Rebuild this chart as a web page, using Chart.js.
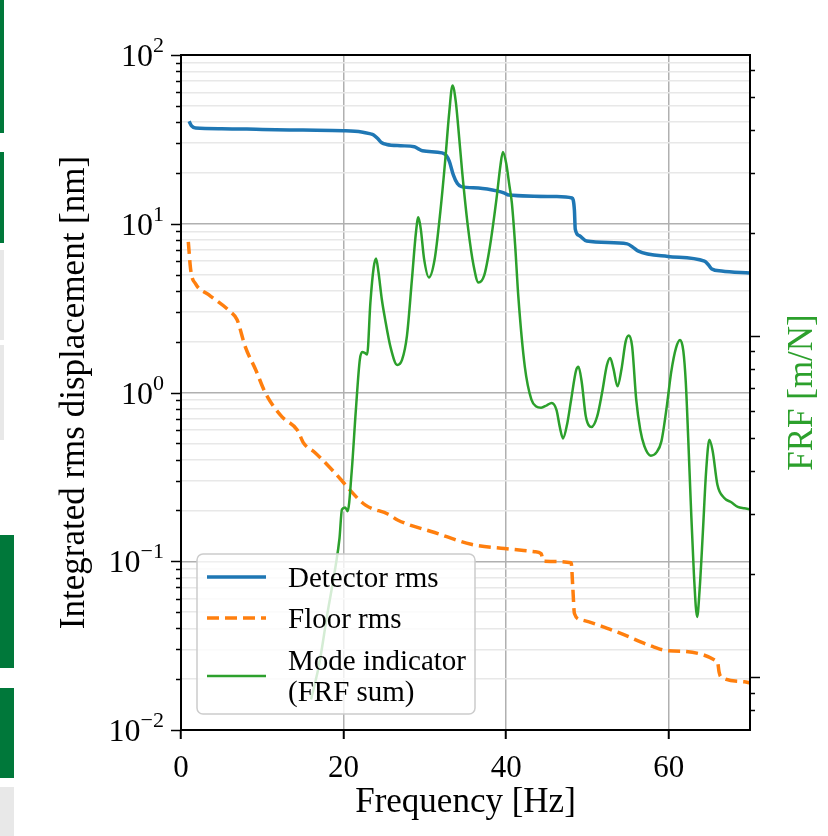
<!DOCTYPE html>
<html>
<head>
<meta charset="utf-8">
<script src="https://cdn.jsdelivr.net/npm/chart.js@4.4.1/dist/chart.umd.min.js"></script>
<style>
  html, body { margin: 0; padding: 0; background: #fff; }
  #wrap { position: relative; width: 828px; height: 836px; }
  .tab { position: absolute; left: 0; }
</style>
</head>
<body>
<div id="wrap">
  <canvas id="chart"></canvas>
  <div class="tab" style="top:0;height:133px;width:4px;background:#00783a"></div>
  <div class="tab" style="top:152px;height:91px;width:4px;background:#00783a"></div>
  <div class="tab" style="top:250px;height:90px;width:4px;background:#e8e8e8"></div>
  <div class="tab" style="top:345px;height:95px;width:4px;background:#e8e8e8"></div>
  <div class="tab" style="top:535px;height:133px;width:14px;background:#00783a"></div>
  <div class="tab" style="top:688px;height:90px;width:14px;background:#00783a"></div>
  <div class="tab" style="top:787px;height:49px;width:14px;background:#e8e8e8"></div>
</div>
<script>
// ===== DADOS =====
const detectorFreq = [1.0, 1.3, 1.8, 5, 10, 15, 20, 22.2, 23.2, 23.7, 24.2, 24.7, 25.3, 27, 28.7, 29.2, 29.7, 32.1, 32.6, 33.0, 33.5, 34.0, 34.5, 36.6, 39.0, 39.8, 40.3, 46.2, 48.1, 48.4, 48.5, 49.0, 49.9, 54.9, 55.7, 56.2, 59.9, 64.4, 64.9, 65.3, 66.5, 70];
const detectorRms  = [40.5, 38.0, 36.9, 36.6, 36.2, 35.9, 35.6, 35.0, 34.2, 33.6, 32.0, 30.2, 29.5, 29.0, 28.6, 27.8, 27.1, 26.3, 25.5, 23.5, 19.5, 17.3, 16.6, 16.3, 15.6, 15.2, 14.8, 14.5, 14.2, 12.0, 9.3, 8.5, 7.9, 7.6, 7.2, 6.9, 6.4, 6.0, 5.7, 5.4, 5.25, 5.1];

const floorFreq = [0.9, 1.2, 1.8, 3.4, 6.1, 6.9, 7.9, 9.2, 10.4, 12.4, 14.3, 15.1, 16.5, 19.8, 20.6, 22.7, 25.5, 26.7, 31.2, 35.7, 39.8, 43.5, 44.3, 44.6, 48.0, 48.2, 48.4, 49.2, 53.7, 58.2, 59.9, 66.0, 66.2, 66.4, 69.3, 70];
const floorRms  = [7.8, 5.3, 4.4, 3.8, 3.0, 2.7, 1.87, 1.36, 0.99, 0.72, 0.60, 0.50, 0.44, 0.30, 0.27, 0.215, 0.19, 0.175, 0.148, 0.126, 0.119, 0.114, 0.111, 0.100, 0.098, 0.070, 0.049, 0.045, 0.038, 0.031, 0.0295, 0.0254, 0.022, 0.0207, 0.0193, 0.019];

// FRF em unidades relativas (marcas maiores do eixo direito em 1 e 10)
const modeFreq = [16.0, 17.0, 18.0, 19.0, 19.5, 19.8, 20.2, 20.5, 21.0, 21.5, 22.0, 22.3, 22.6, 22.9, 23.3, 23.7, 24.0, 24.3, 24.7, 25.1, 25.8, 26.6, 27.2, 27.8, 28.4, 28.9, 29.2, 29.5, 29.9, 30.5, 31.2, 31.9, 32.5, 33.0, 33.4, 33.8, 34.1, 34.6, 35.3, 36.0, 36.6, 37.3, 38.0, 38.8, 39.3, 39.6, 40.0, 40.4, 40.7, 41.1, 41.5, 42.3, 43.1, 43.7, 44.3, 45.0, 45.6, 46.2, 46.6, 47.0, 47.5, 48.0, 48.6, 48.9, 49.3, 49.8, 50.5, 51.2, 51.8, 52.4, 52.8, 53.2, 53.7, 54.2, 54.7, 55.1, 55.5, 56.0, 56.5, 57.0, 57.8, 58.5, 59.1, 59.8, 60.3, 60.9, 61.4, 61.8, 62.1, 62.4, 62.7, 63.1, 63.5, 63.8, 64.2, 64.6, 65.0, 65.4, 66.0, 66.8, 67.7, 68.5, 69.3, 70.0];
const modeFrf  = [0.86, 1.09, 1.53, 2.10, 2.55, 3.10, 3.14, 3.06, 4.0, 6.0, 8.5, 8.95, 8.9, 8.8, 12.5, 15.8, 16.8, 15.3, 12.8, 11.2, 9.2, 8.2, 8.5, 10.0, 14.5, 20.0, 22.2, 20.5, 16.8, 14.8, 16.7, 23, 32.5, 45, 54, 48.5, 41, 30, 20.8, 16.0, 14.3, 15.0, 18.2, 25, 31.5, 34.5, 32, 27.5, 24.5, 18.5, 13.0, 8.1, 6.5, 6.2, 6.15, 6.25, 6.35, 6.05, 5.4, 5.0, 5.5, 6.5, 7.9, 8.1, 7.3, 5.8, 5.4, 5.8, 6.8, 8.2, 8.6, 8.0, 7.1, 8.0, 9.6, 10.0, 9.3, 6.5, 5.3, 4.75, 4.45, 4.55, 4.9, 6.3, 7.8, 9.2, 9.7, 9.0, 7.3, 5.0, 3.3, 2.0, 1.5, 1.8, 2.65, 4.0, 4.95, 4.6, 3.65, 3.35, 3.25, 3.15, 3.12, 3.1];

const xTicks      = [0, 20, 40, 60];
const decadas     = [0.01, 0.1, 1, 10, 100];
const expoentes   = ['\u22122', '\u22121', '0', '1', '2'];
const multiplos   = [1, 2, 3, 4, 5, 6, 7, 8, 9];
const frfTicks    = [0.8, 0.9, 1, 2, 3, 4, 5, 6, 7, 8, 9, 10, 20, 30, 40, 50, 60];
const FRF_MIN = 0.705, FRF_MAX = 66.3;

const SERIF = "'Liberation Serif', 'Times New Roman', serif";
const AZUL = '#1f77b4', LARANJA = '#ff7f0e', VERDE = '#2ca02c';

const pares = (xs, ys) => xs.map((x, i) => ({ x, y: ys[i] }));
const ehDecada = v => Math.abs(Math.log10(v) - Math.round(Math.log10(v))) < 1e-9;

const yGrid = [];
decadas.slice(0, 4).forEach(d => multiplos.forEach(m => yGrid.push(+(d * m).toPrecision(3))));
yGrid.push(100);


// ===== PLUGIN: moldura, marcas, rótulos e legenda =====
const extras = {
  id: 'extras',
  afterDraw(chart) {
    const { ctx, chartArea: a, scales } = chart;
    const y = scales.y, y2 = scales.y2;

    ctx.save();
    ctx.strokeStyle = '#000';

    // marcas eixo esquerdo
    ctx.lineWidth = 1.5;
    yGrid.forEach(v => {
      const py = Math.round(y.getPixelForValue(v)) + 0.5;
      const len = ehDecada(v) ? 10 : 5;
      ctx.beginPath(); ctx.moveTo(a.left - len, py); ctx.lineTo(a.left, py); ctx.stroke();
    });

    // marcas eixo direito
    frfTicks.forEach(v => {
      const py = Math.round(y2.getPixelForValue(v)) + 0.5;
      const len = ehDecada(v) ? 10 : 5;
      ctx.beginPath(); ctx.moveTo(a.right, py); ctx.lineTo(a.right + len, py); ctx.stroke();
    });

    // moldura
    ctx.lineWidth = 2;
    ctx.strokeRect(a.left, a.top, a.right - a.left, a.bottom - a.top);

    // rótulos 10^n
    ctx.fillStyle = '#000';
    ctx.textBaseline = 'alphabetic';
    ctx.textAlign = 'left';
    const xr = a.left - 17;
    decadas.forEach((d, i) => {
      const py = y.getPixelForValue(d);
      ctx.font = `22px ${SERIF}`;
      const we = ctx.measureText(expoentes[i]).width;
      ctx.font = `32px ${SERIF}`;
      const wb = ctx.measureText('10').width;
      ctx.fillText('10', xr - we - wb, py + 11);
      ctx.font = `22px ${SERIF}`;
      ctx.fillText(expoentes[i], xr - we, py - 3);
    });

    // título eixo direito
    ctx.save();
    ctx.translate(803, (a.top + a.bottom) / 2);
    ctx.rotate(-Math.PI / 2);
    ctx.textAlign = 'center';
    ctx.textBaseline = 'middle';
    ctx.fillStyle = VERDE;
    ctx.font = `35px ${SERIF}`;
    ctx.fillText('FRF [m/N]', 0, 0);
    ctx.restore();

    // legenda
    const bx = a.left + 16, by = a.top + 499, bw = 278, bh = 160;
    ctx.beginPath();
    ctx.roundRect(bx, by, bw, bh, 6);
    ctx.fillStyle = 'rgba(255,255,255,0.8)';
    ctx.fill();
    ctx.strokeStyle = '#cccccc';
    ctx.lineWidth = 1.5;
    ctx.stroke();

    const ordem = [2, 1, 0];
    const linhas = [a.top + 522, a.top + 563, a.top + 621];
    ctx.font = `29px ${SERIF}`;
    ctx.textBaseline = 'middle';
    ordem.forEach((idx, k) => {
      const ds = chart.data.datasets[idx];
      const ly = linhas[k];
      ctx.beginPath();
      ctx.strokeStyle = ds.borderColor;
      ctx.lineWidth = ds.borderWidth;
      ctx.setLineDash(ds.borderDash || []);
      ctx.moveTo(bx + 10, ly); ctx.lineTo(bx + 69, ly);
      ctx.stroke();
      ctx.setLineDash([]);
      ctx.fillStyle = '#000';
      const partes = ds.label.split('\n');
      const y0 = ly - (partes.length - 1) * 31 / 2 + 2;
      partes.forEach((p, j) => ctx.fillText(p, bx + 91, y0 + j * 31));
    });

    ctx.restore();
  }
};


// ===== GRÁFICO =====
new Chart(document.getElementById('chart'), {
  type: 'line',
  data: {
    datasets: [
      { label: 'Mode indicator\n(FRF sum)', data: pares(modeFreq, modeFrf), yAxisID: 'y2',
        borderColor: VERDE, borderWidth: 2.5, order: 0 },
      { label: 'Floor rms', data: pares(floorFreq, floorRms), yAxisID: 'y',
        borderColor: LARANJA, borderWidth: 3.5, borderDash: [12, 6], order: 1 },
      { label: 'Detector rms', data: pares(detectorFreq, detectorRms), yAxisID: 'y',
        borderColor: AZUL, borderWidth: 3.5, order: 2 }
    ]
  },
  options: {
    responsive: true,
    maintainAspectRatio: false,
    animation: false,
    devicePixelRatio: 1,
    layout: { padding: { top: 55, left: 0, right: 0, bottom: 0 } },
    elements: {
      point: { radius: 0 },
      line: { cubicInterpolationMode: 'monotone', borderJoinStyle: 'round', fill: false }
    },
    plugins: { legend: { display: false }, tooltip: { enabled: false } },
    scales: {
      x: {
        type: 'linear', min: 0, max: 70,
        afterBuildTicks: s => { s.ticks = xTicks.map(v => ({ value: v })); },
        afterFit: s => { s.height = 106; },
        grid: { color: '#b0b0b0', lineWidth: 1.5, tickColor: '#000', tickLength: 9, tickWidth: 2 },
        border: { display: false },
        ticks: { color: '#000', font: { family: SERIF, size: 31 }, padding: 11, maxRotation: 0, autoSkip: false },
        title: { display: true, text: 'Frequency [Hz]', color: '#000',
                 font: { family: SERIF, size: 35 }, padding: { top: 0, bottom: 12 } }
      },
      y: {
        type: 'logarithmic', position: 'left', min: 0.01, max: 100,
        afterBuildTicks: s => { s.ticks = yGrid.map(v => ({ value: v })); },
        afterFit: s => { s.width = 181; },
        grid: { color: c => (c.tick && ehDecada(c.tick.value)) ? '#b0b0b0' : '#e8e8e8', lineWidth: 1.5, drawTicks: false },
        border: { display: false },
        ticks: { display: false },
        title: { display: true, text: 'Integrated rms displacement [nm]', color: '#000',
                 font: { family: SERIF, size: 35 }, padding: { top: 54, bottom: 0 } }
      },
      y2: {
        type: 'logarithmic', position: 'right', min: FRF_MIN, max: FRF_MAX,
        afterFit: s => { s.width = 78; },
        grid: { display: false, drawTicks: false },
        border: { display: false },
        ticks: { display: false }
      }
    }
  },
  plugins: [extras]
});
</script>
</body>
</html>
